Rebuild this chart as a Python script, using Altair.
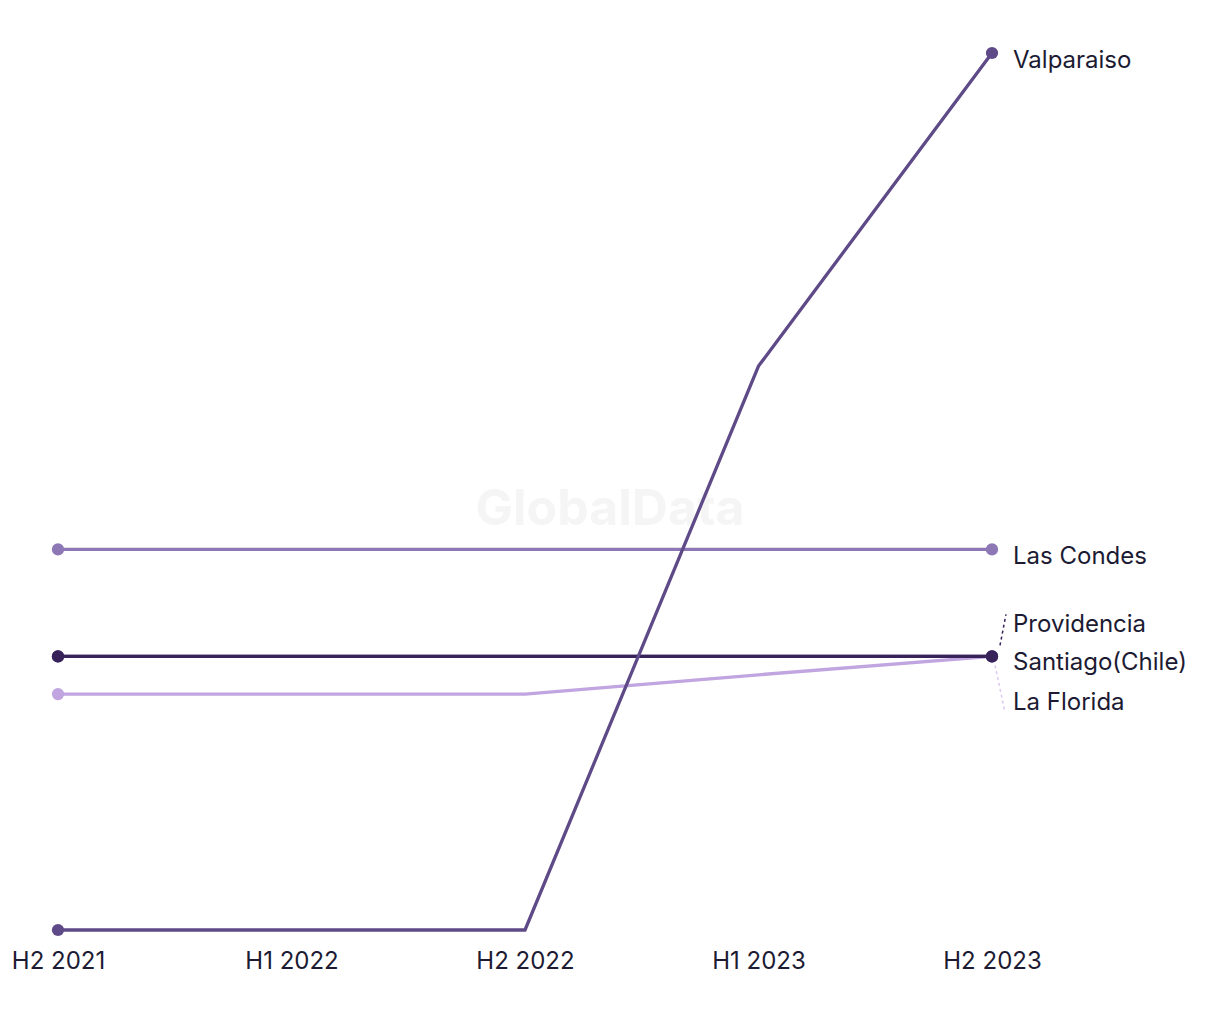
import altair as alt
import pandas as pd

periods = ["H2 2021", "H1 2022", "H2 2022", "H1 2023", "H2 2023"]
cities = ["La Florida", "Providencia", "Las Condes", "Santiago(Chile)", "Valparaiso"]
values = {
    "La Florida":      [26.9, 26.9, 26.9, 29.1, 31.2],
    "Providencia":     [31.2, 31.2, 31.2, 31.2, 31.2],
    "Las Condes":      [43.4, 43.4, 43.4, 43.4, 43.4],
    "Santiago(Chile)": [31.2, 31.2, 31.2, 31.2, 31.2],
    "Valparaiso":      [0.0, 0.0, 0.0, 64.3, 100.0],
}
colors = ["#c0a5e0", "#4a3675", "#8e77b5", "#37235a", "#5f4a88"]

rows = []
for c in cities:
    for i, (p, v) in enumerate(zip(periods, values[c])):
        rows.append({"city": c, "period": p, "idx": i, "value": v})
df = pd.DataFrame(rows)

FONT = "Inter"
TEXT = "#1c1b33"
FS = 24

x = alt.X("period:O", sort=periods, scale=alt.Scale(type="point", padding=0),
          axis=alt.Axis(title=None, labelAngle=0, domain=False, ticks=False, grid=False,
                        labelFontSize=FS, labelFont=FONT, labelColor=TEXT, labelPadding=19))
y = alt.Y("value:Q", scale=alt.Scale(domain=[0, 100], nice=False, zero=True), axis=None)
color = alt.Color("city:N", scale=alt.Scale(domain=cities, range=colors), legend=None)

base = alt.Chart(df)

watermark = alt.Chart(pd.DataFrame({"t": ["GlobalData"]})).mark_text(
    font=FONT, fontSize=50, fontWeight="bold", color="#f5f5f5"
).encode(text="t:N", x=alt.value(552), y=alt.value(457))

lines = base.mark_line(strokeWidth=3.3).encode(x=x, y=y, color=color, order=alt.Order("idx:Q"))

points = base.transform_filter(
    alt.FieldOneOfPredicate(field="period", oneOf=[periods[0], periods[-1]])
).mark_circle(size=150, opacity=1).encode(x=x, y=y, color=color)

last = df[df["period"] == periods[-1]].copy()
label_dy = {"Valparaiso": 8, "Las Condes": 8, "Providencia": -31, "Santiago(Chile)": 7, "La Florida": 47}

labels = alt.layer(*[
    alt.Chart(last[last["city"] == c]).mark_text(
        align="left", baseline="middle", dx=21, dy=label_dy[c],
        font=FONT, fontSize=FS, color=TEXT
    ).encode(x=x, y=y, text="city:N")
    for c in cities
])

leader_prov = alt.Chart(last[last["city"] == "Providencia"]).mark_rule(
    strokeDash=[3, 3], strokeWidth=1.5, color="#37235a",
    xOffset=8, yOffset=-11, x2Offset=14, y2Offset=-42
).encode(x=x, x2=alt.X2("period:O"), y=y, y2=alt.Y2("value:Q"))

leader_flo = alt.Chart(last[last["city"] == "La Florida"]).mark_rule(
    strokeDash=[3, 3], strokeWidth=1.5, color="#dcc8f0",
    xOffset=3, yOffset=9, x2Offset=13, y2Offset=56
).encode(x=x, x2=alt.X2("period:O"), y=y, y2=alt.Y2("value:Q"))

chart = alt.layer(watermark, lines, points, leader_prov, leader_flo, labels).properties(
    width=934, height=877,
    autosize=alt.AutoSizeParams(type="none"),
    padding={"left": 58, "top": 53, "right": 228, "bottom": 90},
    background="white",
).configure_view(stroke=None)

chart.save("out.html", embed_options={"renderer": "svg", "actions": False})
